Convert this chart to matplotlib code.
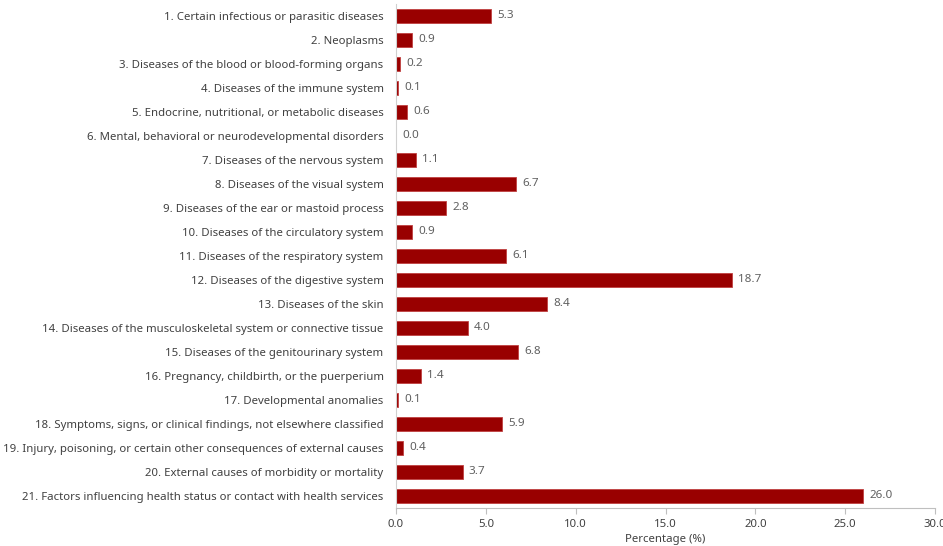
import matplotlib.pyplot as plt

categories = [
    "1. Certain infectious or parasitic diseases",
    "2. Neoplasms",
    "3. Diseases of the blood or blood-forming organs",
    "4. Diseases of the immune system",
    "5. Endocrine, nutritional, or metabolic diseases",
    "6. Mental, behavioral or neurodevelopmental disorders",
    "7. Diseases of the nervous system",
    "8. Diseases of the visual system",
    "9. Diseases of the ear or mastoid process",
    "10. Diseases of the circulatory system",
    "11. Diseases of the respiratory system",
    "12. Diseases of the digestive system",
    "13. Diseases of the skin",
    "14. Diseases of the musculoskeletal system or connective tissue",
    "15. Diseases of the genitourinary system",
    "16. Pregnancy, childbirth, or the puerperium",
    "17. Developmental anomalies",
    "18. Symptoms, signs, or clinical findings, not elsewhere classified",
    "19. Injury, poisoning, or certain other consequences of external causes",
    "20. External causes of morbidity or mortality",
    "21. Factors influencing health status or contact with health services",
]
values = [5.3, 0.9, 0.2, 0.1, 0.6, 0.0, 1.1, 6.7, 2.8, 0.9, 6.1, 18.7, 8.4,
          4.0, 6.8, 1.4, 0.1, 5.9, 0.4, 3.7, 26.0]
xticks = [0, 5, 10, 15, 20, 25, 30]

plt.rcParams['font.family'] = ['Noto Sans', 'DejaVu Sans']

fig = plt.figure(figsize=(9.43, 5.46), dpi=100)
ax = fig.add_axes([0.42, 0.0696, 0.5715, 0.9231])

pos = list(range(len(categories)))
ax.barh(pos, values, height=0.6, color='#990000', edgecolor='#c04040', linewidth=0.6)
for p, v in zip(pos, values):
    ax.text(v + 0.35, p, f"{v:.1f}", va='center', ha='left', fontsize=8.4, color='#606060')

ax.set_yticks(pos)
ax.set_yticklabels(categories, fontsize=8.2, color='#404040')
ax.set_ylim(len(categories) - 0.5, -0.5)
ax.set_xlim(0, 30)
ax.set_xticks(xticks)
ax.set_xticklabels([f"{t:.1f}" for t in xticks], fontsize=8.2, color='#404040')
ax.set_xlabel("Percentage (%)", fontsize=8.2, color='#404040', labelpad=2.5)

for s in ['top', 'right']:
    ax.spines[s].set_visible(False)
ax.spines['left'].set_color('#d0d0d0')
ax.spines['bottom'].set_color('#bfbfbf')
ax.tick_params(axis='y', length=0, pad=9)
ax.tick_params(axis='x', length=4, color='#bfbfbf', pad=4)

fig.savefig('out.png', dpi=100)
